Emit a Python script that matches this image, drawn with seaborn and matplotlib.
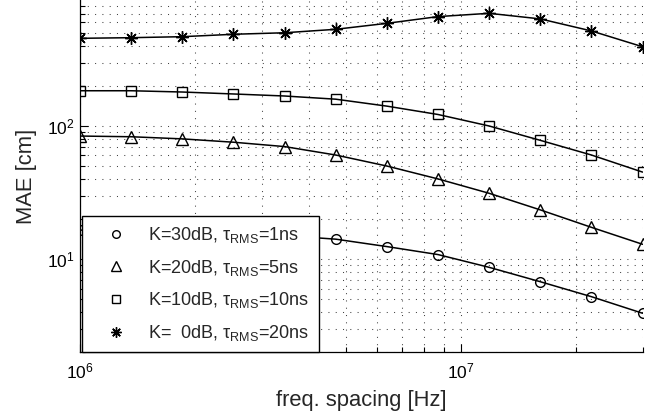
import numpy as np
import pandas as pd
import matplotlib
matplotlib.use("Agg")
import matplotlib.pyplot as plt
import seaborn as sns
from matplotlib.lines import Line2D
from matplotlib.ticker import LogLocator, LogFormatterSciNotation, NullFormatter

# ---- data ----
freq_hz = [1.0e6, 1.362e6, 1.855e6, 2.527e6, 3.441e6, 4.687e6, 6.384e6,
           8.695e6, 11.84e6, 16.13e6, 21.97e6, 29.93e6]
mae_k30 = [16.5, 16.4, 16.1, 15.7, 15.0, 14.1, 12.4, 10.8, 8.66, 6.75, 5.21, 3.91]
mae_k20 = [84, 83, 80, 75.5, 70, 60.5, 50, 40, 31.2, 23.4, 17.3, 12.9]
mae_k10 = [184, 184, 180, 174, 168, 159, 141, 122, 100, 78, 60.5, 45]
mae_k0 = [456, 461, 469, 489, 502, 533, 591, 664, 703, 638, 518, 394]
labels = [r"K=30dB, $\tau_{\rm RMS}$=1ns",
          r"K=20dB, $\tau_{\rm RMS}$=5ns",
          r"K=10dB, $\tau_{\rm RMS}$=10ns",
          r"K=  0dB, $\tau_{\rm RMS}$=20ns"]
series = [mae_k30, mae_k20, mae_k10, mae_k0]
markers = ["o", "^", "s", (8, 2, 0)]
msizes = [7, 8.5, 7, 9]
xlabel = "freq. spacing [Hz]"
ylabel = "MAE [cm]"

sns.set_style("white")
plt.rcParams["font.family"] = ["Liberation Sans", "DejaVu Sans"]
plt.rcParams["mathtext.fontset"] = "custom"
plt.rcParams["mathtext.rm"] = "Liberation Sans"
plt.rcParams["mathtext.it"] = "Liberation Sans:italic"
plt.rcParams["mathtext.default"] = "regular"

fig = plt.figure(figsize=(6.55, 4.17), dpi=100)
ax = fig.add_axes([80 / 655, 1 - 352 / 417, (643 - 80) / 655, 352 / 417])

for lab, vals, mk, ms in zip(labels, series, markers, msizes):
    df = pd.DataFrame({"f": freq_hz, "mae": vals})
    sns.lineplot(data=df, x="f", y="mae", ax=ax, color="black", linewidth=1.1,
                 marker=mk, markersize=ms, markerfacecolor="none",
                 markeredgecolor="black", markeredgewidth=1.0, legend=False)

ax.set_xscale("log")
ax.set_yscale("log")
ax.set_xlim(1e6, 3e7)
ax.set_ylim(2, 885)

ax.xaxis.set_major_locator(LogLocator(base=10))
ax.xaxis.set_minor_locator(LogLocator(base=10, subs=np.arange(2, 10)))
ax.yaxis.set_major_locator(LogLocator(base=10))
ax.yaxis.set_minor_locator(LogLocator(base=10, subs=np.arange(2, 10)))
ax.xaxis.set_major_formatter(LogFormatterSciNotation())
ax.yaxis.set_major_formatter(LogFormatterSciNotation())
ax.xaxis.set_minor_formatter(NullFormatter())
ax.yaxis.set_minor_formatter(NullFormatter())

ax.grid(True, which="both", color="#444444", linestyle=(0, (1, 6)), linewidth=0.75)
for s in ["top", "right"]:
    ax.spines[s].set_visible(False)
for s in ["left", "bottom"]:
    ax.spines[s].set_color("black")
    ax.spines[s].set_linewidth(0.9)
ax.tick_params(which="both", direction="in", left=True, bottom=True,
               right=False, top=False, colors="black", labelsize=12.5)
ax.tick_params(which="major", length=6, width=0.8)
ax.tick_params(which="minor", length=3.5, width=0.8)
ax.tick_params(axis="x", which="major", pad=7)
ax.tick_params(axis="y", which="major", pad=4)

ax.set_xlabel(xlabel, fontsize=15.8, labelpad=6)
ax.set_ylabel(ylabel, fontsize=15.8, labelpad=7)

handles = [Line2D([], [], linestyle="none", marker=mk, markersize=ms - 1.5,
                  markerfacecolor="none", markeredgecolor="black", markeredgewidth=1.0)
           for mk, ms in zip(markers, msizes)]
leg = ax.legend(handles, labels, loc="lower left", bbox_to_anchor=(0.003, 0.0),
                fontsize=13, frameon=True, fancybox=False, edgecolor="black",
                framealpha=1.0, borderpad=0.5, labelspacing=0.7, handletextpad=0.4,
                borderaxespad=0.0, handlelength=2.8)
leg.get_frame().set_linewidth(1.0)
leg.set_zorder(5)

fig.savefig("out.png", dpi=100)
